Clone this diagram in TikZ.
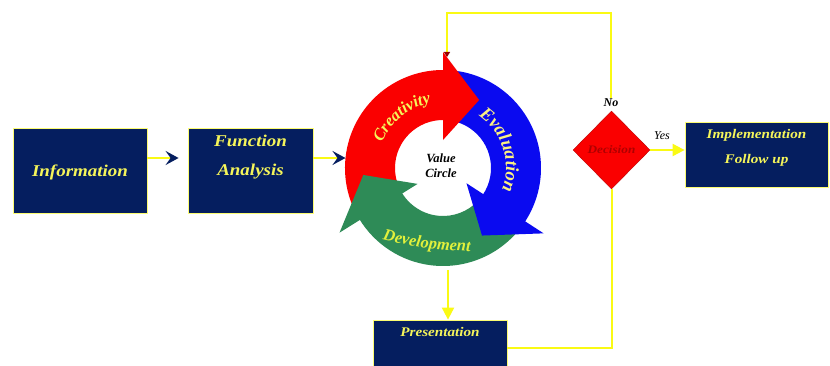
\documentclass[tikz,border=0pt]{standalone}
\usepackage{fontspec}
\setmainfont{Liberation Serif}
\newfontfamily\widefont[FakeStretch=1.15]{Liberation Serif}
\usetikzlibrary{arrows.meta,shapes.geometric,decorations.text,calc}
\definecolor{navyb}{RGB}{5,30,95}
\definecolor{txty}{RGB}{245,245,90}
\definecolor{evaly}{RGB}{250,240,130}
\definecolor{devy}{RGB}{225,240,60}
\definecolor{liney}{RGB}{250,250,20}
\definecolor{cred}{RGB}{250,0,0}
\definecolor{cblue}{RGB}{10,10,240}
\definecolor{cgreen}{RGB}{46,139,87}
\definecolor{decred}{RGB}{175,0,0}
\begin{document}
\begin{tikzpicture}[x=1pt,y=1pt,
  box/.style={draw=liney!60!white, line width=0.8pt, fill=navyb, inner sep=0pt},
  btxt/.style={text=txty, font=\widefont\bfseries\itshape\fontsize{16.5}{29}\selectfont, align=center},
  stxt/.style={text=txty, font=\widefont\bfseries\itshape\fontsize{13.2}{25}\selectfont, align=center},
  yl/.style={draw=liney, line width=2pt},
  navyhead/.style={-{Stealth[length=13pt,width=14pt,inset=5pt,color=navyb]}},
  yhead/.style={-{Triangle[length=12pt,width=12pt,color=liney]}}
]
\clip (0,0) rectangle (830,365);
\fill[white] (0,0) rectangle (830,365);

% ---- value circle ----
\coordinate (C) at (443,197);
% bands
\fill[cred] ($(C)+(208:98)$) arc[start angle=208,end angle=89,radius=98]
  -- ($(C)+(89:48)$) arc[start angle=89,end angle=208,radius=48] -- cycle;
\fill[cblue] ($(C)+(86:98)$) arc[start angle=86,end angle=-34,radius=98]
  -- ($(C)+(-34:48)$) arc[start angle=-34,end angle=86,radius=48] -- cycle;
\fill[cgreen] ($(C)+(-37:98)$) arc[start angle=-37,end angle=-149,radius=98]
  -- ($(C)+(-149:48)$) arc[start angle=-149,end angle=-37,radius=48] -- cycle;
% heads
\fill[cred] ($(C)+(90:28)$) -- ($(C)+(90:116)$) -- ($(C)+(62:77)$) -- cycle;
\fill[cblue] ($(C)+(-33:28)$) -- ($(C)+(-33:120)$) -- ($(C)+(-60:78)$) -- cycle;
\fill[cgreen] ($(C)+(212:30)$) -- ($(C)+(212:122)$) -- ($(C)+(185:80)$) -- cycle;
% band texts
\path[decorate, decoration={text along path, text align=center,
  text={|\fontsize{16.5}{16.5}\selectfont\bfseries\itshape\color{txty}|Creativity}}]
  ($(C)+(178:66)$) arc[start angle=178,end angle=80,radius=66];
\path[decorate, decoration={text along path, text align=center,
  text={|\fontsize{18.5}{18.5}\selectfont\bfseries\itshape\color{evaly}|Evaluation}}]
  ($(C)+(75:63)$) arc[start angle=75,end angle=-40,radius=63];
\path[decorate, decoration={text along path, text align=center,
  text={|\fontsize{16.5}{16.5}\selectfont\bfseries\itshape\color{devy}|Development}}]
  (358,133) .. controls (398,119) and (440,113) .. (496,113);
\node[font=\bfseries\itshape\fontsize{12.5}{15}\selectfont, align=center] (vc) at (441,199.5) {Value\\Circle};

% ---- boxes ----
\node[box, minimum width=134, minimum height=85] (info) at (80,194.5) {};
\node[btxt] (infot) at (80,193) {Information};
\node[box, minimum width=125, minimum height=85] (func) at (250.5,194.5) {};
\node[btxt] (funct) at (250.5,208) {Function\\Analysis};
\node[box, minimum width=134, minimum height=55] (pres) at (440,17.5) {};
\node[stxt] (prest) at (440,33) {Presentation};
\node[box, minimum width=143, minimum height=65] (impl) at (756.5,210.5) {};
\node[stxt] (implt) at (756.5,217.5) {Implementation\\Follow up};

% ---- decision ----
\node[diamond, fill=cred, draw=red!75!black, line width=0.4pt, minimum width=77, minimum height=78,
  inner sep=0pt, text=decred, font=\widefont\bfseries\itshape\fontsize{11.5}{11.5}\selectfont] (dec) at (611.5,215) {Decision};
\node[font=\bfseries\itshape\fontsize{12}{12}\selectfont, inner sep=1pt] (no) at (611,262) {No};
\node[font=\itshape\fontsize{12}{12}\selectfont] (yes) at (662,229) {Yes};

% ---- connectors ----
\coordinate (ringin) at (345.5,207);
\coordinate (ringS) at (448,95);
\coordinate (topR) at (611,352);
\coordinate (topL) at (447,352);
\coordinate (redtop) at (447,308);
\draw[yl, navyhead, shorten >=9pt] ([yshift=12.5]info.east) -- ([yshift=12.5]func.west);
\draw[yl, navyhead] ([yshift=12.5]func.east) -- (ringin);
\draw[yl, yhead] (ringS) -- (ringS |- pres.north);
\draw[yl] (pres.east) -| (dec.south);
\draw[yl, -{Triangle[length=5pt,width=6pt,color=red!60!black]}] (no.north) -- (topR) -- (topL) -- (redtop);
\draw[yl, yhead] (dec.east) -- (dec.east -| impl.west);
\end{tikzpicture}
\end{document}
